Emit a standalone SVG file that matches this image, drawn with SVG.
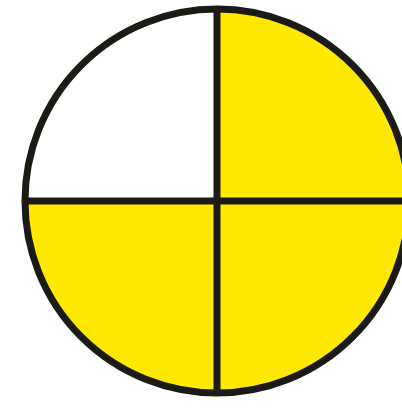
<svg xmlns="http://www.w3.org/2000/svg" width="402" height="413" viewBox="0 0 402 413">
<style>
.q{fill:#FFE900;stroke:none}
.ln{stroke:#1c1a14;stroke-width:7;fill:none}
</style>
<rect width="402" height="413" fill="#ffffff"/>
<g id="circle">
<path class="q" d="M217,201 L217,9 A192,192 0 0 1 409,201 Z"/>
<path class="q" d="M217,201 L409,201 A192,192 0 0 1 217,393 Z"/>
<path class="q" d="M217,201 L217,393 A192,192 0 0 1 25,201 Z"/>
<circle class="ln" cx="217" cy="201" r="192"/>
</g>
<g id="connectors">
<line class="ln" x1="217" y1="9" x2="217" y2="393"/>
<line class="ln" x1="25" y1="201" x2="409" y2="201"/>
</g>
</svg>
